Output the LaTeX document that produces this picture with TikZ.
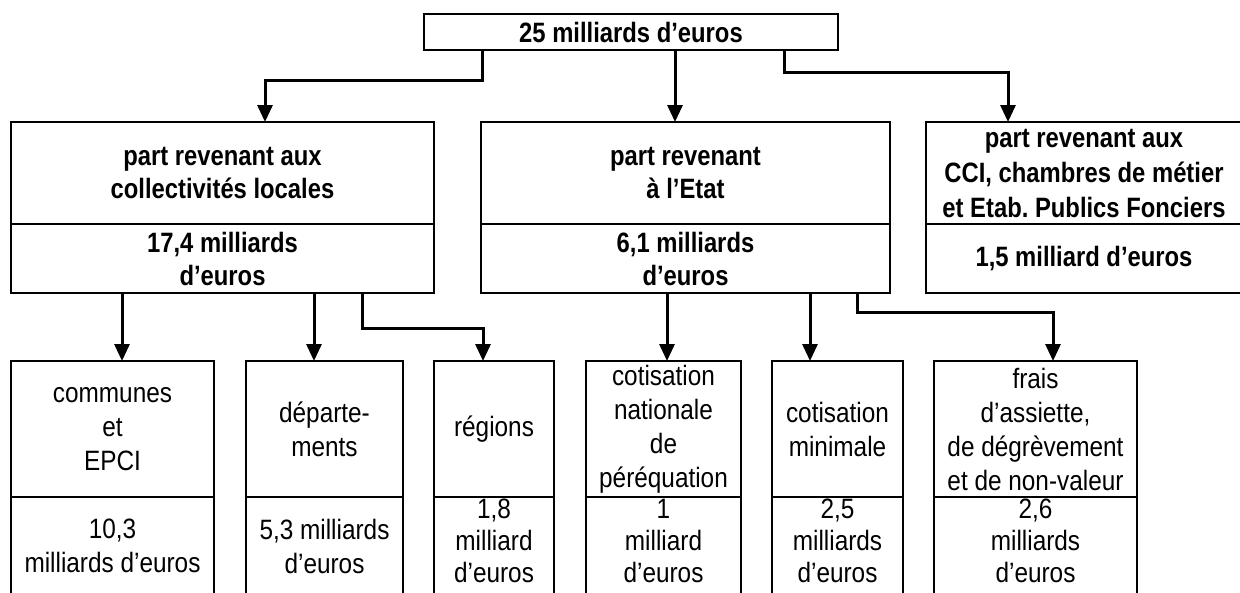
\documentclass[tikz,border=0pt]{standalone}
\usepackage{fontspec}
\setmainfont{Liberation Sans}[FakeStretch=0.87,BoldFeatures={FakeStretch=0.85}]
\usetikzlibrary{arrows.meta}
\frenchspacing
\begin{document}
\begin{tikzpicture}[x=1pt,y=-1pt,
  box/.style={draw, line width=2pt, inner sep=0pt, outer sep=0pt, align=center, anchor=north west, font=\fontsize{28}{34}\selectfont},
  lowthree/.style={box, font=\fontsize{28}{32}\selectfont, text depth=10pt},
  bbox/.style={box, font=\fontsize{28}{33}\selectfont\bfseries},
  conn/.style={line width=3pt},
  arr/.style={conn, -{Triangle[length=17pt,width=15pt]}}]
\useasboundingbox (0,0) rectangle (1240,592);
\clip (0,0) rectangle (1240,592);
% top
\node[bbox, minimum width=414pt, minimum height=36pt] (T) at (424,14) {25 milliards d’euros};
% middle level
\node[bbox, minimum width=423pt, minimum height=102pt] (Lt) at (11,122) {part revenant aux\\collectivités locales};
\node[bbox, minimum width=423pt, minimum height=69pt] (Lb) at (11,224) {17,4 milliards\\d’euros};
\node[bbox, minimum width=409pt, minimum height=102pt] (Mt) at (481,122) {part revenant\\à l’Etat};
\node[bbox, minimum width=409pt, minimum height=69pt] (Mb) at (481,224) {6,1 milliards\\d’euros};
\node[bbox, font=\fontsize{28}{35}\selectfont\bfseries, minimum width=316pt, minimum height=102pt] (Rt) at (926,122) {part revenant aux\\CCI, chambres de métier\\et Etab. Publics Fonciers};
\node[bbox, minimum width=316pt, minimum height=69pt] (Rb) at (926,224) {1,5 milliard d’euros};
% bottom level
\node[box, minimum width=203pt, minimum height=136pt] (B1) at (11,361) {communes\\et\\EPCI};
\node[box, minimum width=203pt, minimum height=98pt] (B1b) at (11,497) {10,3\\milliards d’euros};
\node[box, minimum width=157pt, minimum height=136pt] (B2) at (246,361) {départe-\\ments};
\node[box, minimum width=157pt, minimum height=98pt] (B2b) at (246,497) {5,3 milliards\\d’euros};
\node[box, minimum width=120pt, minimum height=136pt] (B3) at (434,361) {régions};
\node[lowthree, minimum width=120pt, minimum height=98pt] (B3b) at (434,497) {1,8\\milliard\\d’euros};
\node[box, minimum width=155pt, minimum height=136pt] (B4) at (586,361) {cotisation\\nationale\\de\\péréquation};
\node[lowthree, minimum width=155pt, minimum height=98pt] (B4b) at (586,497) {1\\milliard\\d’euros};
\node[box, minimum width=131pt, minimum height=136pt] (B5) at (772,361) {cotisation\\minimale};
\node[lowthree, minimum width=131pt, minimum height=98pt] (B5b) at (772,497) {2,5\\milliards\\d’euros};
\node[box, minimum width=203pt, minimum height=136pt] (B6) at (934,361) {frais\\d’assiette,\\de dégrèvement\\et de non-valeur};
\node[lowthree, minimum width=203pt, minimum height=98pt] (B6b) at (934,497) {2,6\\milliards\\d’euros};
% connectors top -> middle
\draw[arr] ([xshift=58pt]T.south west) -- ++(0,30) -| ([xshift=254pt]Lt.north west);
\draw[arr] ([xshift=251pt]T.south west) -- ([xshift=194pt]Mt.north west);
\draw[arr] ([xshift=-54pt]T.south east) -- ++(0,22) -| ([xshift=82pt]Rt.north west);
% connectors middle -> bottom
\draw[arr] ([xshift=111pt]Lb.south west) -- ([xshift=111pt]B1.north west);
\draw[arr] ([xshift=303pt]Lb.south west) -- ([xshift=68pt]B2.north west);
\draw[arr] ([xshift=351pt]Lb.south west) -- ++(0,35) -| ([xshift=49pt]B3.north west);
\draw[arr] ([xshift=186pt]Mb.south west) -- ([xshift=81pt]B4.north west);
\draw[arr] ([xshift=329pt]Mb.south west) -- ([xshift=38pt]B5.north west);
\draw[arr] ([xshift=376pt]Mb.south west) -- ++(0,19) -| ([xshift=119pt]B6.north west);
\end{tikzpicture}
\end{document}
